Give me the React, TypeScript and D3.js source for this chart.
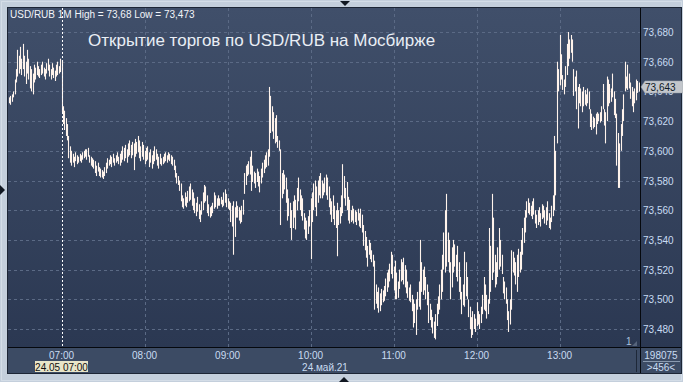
import React from 'react';
import * as d3 from 'd3';

const W = 683;
const H = 382;

// 1-minute bars, first bar at 06:22
const startTime = '06:22';

const highs = [
  73.636,73.637,73.638,73.640,73.648,73.655,73.668,73.664,73.670,73.662,
  73.672,73.664,73.660,73.668,73.662,73.657,73.655,73.652,73.658,73.656,
  73.660,73.657,73.655,73.658,73.660,73.656,73.655,73.659,73.662,73.658,
  73.655,73.659,73.656,73.654,73.658,73.660,73.657,73.662,73.661,73.630,
  73.627,73.622,73.618,73.610,73.603,73.600,73.598,73.596,73.599,73.597,
  73.596,73.598,73.597,73.599,73.600,73.601,73.601,73.602,73.597,73.596,
  73.595,73.594,73.593,73.590,73.592,73.589,73.588,73.587,73.586,73.589,
  73.592,73.595,73.594,73.597,73.596,73.598,73.595,73.597,73.599,73.596,
  73.598,73.600,73.603,73.602,73.604,73.601,73.605,73.607,73.604,73.606,
  73.605,73.608,73.606,73.610,73.607,73.603,73.606,73.604,73.600,73.602,
  73.603,73.599,73.601,73.597,73.600,73.603,73.601,73.598,73.596,73.598,
  73.595,73.596,73.598,73.599,73.597,73.599,73.598,73.597,73.596,73.594,
  73.590,73.585,73.583,73.580,73.578,73.570,73.568,73.572,73.569,73.573,
  73.576,73.578,73.574,73.572,73.568,73.565,73.569,73.564,73.560,73.566,
  73.572,73.577,73.576,73.570,73.564,73.562,73.563,73.565,73.572,73.570,
  73.568,73.570,73.568,73.569,73.567,73.572,73.574,73.571,73.568,73.566,
  73.565,73.563,73.566,73.562,73.566,73.563,73.562,73.560,73.563,73.567,
  73.585,73.590,73.591,73.593,73.596,73.600,73.590,73.586,73.585,73.588,
  73.586,73.583,73.588,73.592,73.594,73.597,73.599,73.601,73.643,73.637,
  73.630,73.626,73.622,73.624,73.610,73.607,73.601,73.585,73.587,73.584,
  73.582,73.574,73.568,73.565,73.560,73.566,73.570,73.567,73.575,73.582,
  73.574,73.570,73.568,73.558,73.555,73.553,73.556,73.560,73.568,73.572,
  73.578,73.580,73.576,73.580,73.583,73.585,73.580,73.578,73.582,73.584,
  73.582,73.576,73.568,73.566,73.570,73.563,73.560,73.565,73.560,73.562,
  73.570,73.591,73.583,73.575,73.579,73.569,73.567,73.560,73.563,73.561,
  73.560,73.559,73.561,73.558,73.561,73.557,73.550,73.546,73.542,73.536,
  73.540,73.538,73.533,73.530,73.526,73.510,73.505,73.508,73.504,73.507,
  73.506,73.509,73.514,73.518,73.520,73.524,73.532,73.530,73.522,73.526,
  73.518,73.512,73.520,73.527,73.525,73.528,73.523,73.520,73.512,73.508,
  73.510,73.503,73.500,73.497,73.500,73.505,73.512,73.540,73.525,73.520,
  73.522,73.515,73.510,73.505,73.497,73.493,73.488,73.485,73.490,73.497,
  73.502,73.510,73.520,73.530,73.545,73.560,73.571,73.545,73.540,73.525,
  73.535,73.540,73.537,73.530,73.536,73.525,73.515,73.505,73.510,73.532,
  73.525,73.515,73.500,73.495,73.488,73.492,73.490,73.487,73.498,73.492,
  73.490,73.495,73.503,73.515,73.510,73.503,73.500,73.548,73.536,73.571,
  73.555,73.530,73.525,73.535,73.548,73.540,73.530,73.515,73.512,73.508,
  73.500,73.492,73.500,73.533,73.532,73.528,73.525,73.530,73.534,73.532,
  73.540,73.548,73.555,73.560,73.566,73.568,73.565,73.563,73.566,73.568,
  73.560,73.557,73.560,73.562,73.558,73.564,73.563,73.560,73.562,73.566,
  73.558,73.555,73.563,73.570,73.610,73.600,73.660,73.655,73.678,73.665,
  73.651,73.648,73.657,73.672,73.680,73.675,73.678,73.675,73.655,73.650,
  73.654,73.643,73.645,73.642,73.640,73.643,73.641,73.638,73.642,73.640,
  73.628,73.625,73.623,73.622,73.625,73.626,73.625,73.626,73.630,73.645,
  73.628,73.626,73.650,73.648,73.645,73.642,73.652,73.640,73.635,73.625,
  73.612,73.605,73.618,73.628,73.638,73.660,73.650,73.658,73.652,73.646,
  73.643,73.640,73.642,73.648,73.647,73.646,
];

const lows = [
  73.632,73.631,73.633,73.636,73.638,73.646,73.650,73.652,73.655,73.651,
  73.655,73.650,73.645,73.652,73.648,73.642,73.640,73.638,73.646,73.648,
  73.651,73.650,73.649,73.651,73.652,73.650,73.648,73.652,73.654,73.650,
  73.648,73.651,73.649,73.647,73.650,73.651,73.652,73.653,73.626,73.618,
  73.614,73.610,73.607,73.595,73.592,73.590,73.592,73.589,73.593,73.591,
  73.592,73.593,73.592,73.594,73.595,73.596,73.594,73.596,73.592,73.590,
  73.589,73.588,73.585,73.583,73.586,73.583,73.582,73.582,73.581,73.583,
  73.585,73.588,73.590,73.591,73.589,73.592,73.590,73.592,73.593,73.591,
  73.590,73.592,73.594,73.593,73.595,73.592,73.596,73.597,73.595,73.597,
  73.587,73.596,73.598,73.599,73.595,73.593,73.596,73.594,73.591,73.593,
  73.594,73.589,73.592,73.588,73.591,73.593,73.594,73.590,73.588,73.591,
  73.590,73.591,73.592,73.593,73.592,73.594,73.593,73.591,73.590,73.587,
  73.582,73.578,73.577,73.573,73.566,73.562,73.561,73.563,73.562,73.565,
  73.566,73.567,73.563,73.560,73.558,73.556,73.559,73.554,73.552,73.557,
  73.560,73.565,73.566,73.558,73.556,73.555,73.556,73.558,73.561,73.562,
  73.561,73.563,73.563,73.564,73.562,73.563,73.565,73.562,73.561,73.560,
  73.552,73.549,73.530,73.542,73.555,73.555,73.553,73.551,73.552,73.557,
  73.571,73.577,73.583,73.584,73.584,73.573,73.579,73.578,73.575,73.579,
  73.576,73.572,73.578,73.582,73.585,73.588,73.589,73.590,73.596,73.612,
  73.613,73.608,73.605,73.606,73.602,73.600,73.550,73.568,73.571,73.574,
  73.565,73.553,73.556,73.548,73.540,73.548,73.555,73.547,73.560,73.566,
  73.560,73.556,73.553,73.547,73.541,73.540,73.544,73.549,73.527,73.552,
  73.560,73.562,73.556,73.565,73.570,73.568,73.568,73.570,73.572,73.570,
  73.567,73.562,73.557,73.552,73.554,73.550,73.548,73.529,73.550,73.551,
  73.556,73.558,73.568,73.563,73.560,73.553,73.551,73.552,73.553,73.551,
  73.552,73.550,73.553,73.549,73.548,73.545,73.536,73.533,73.528,73.522,
  73.530,73.527,73.525,73.522,73.493,73.497,73.494,73.491,73.492,73.496,
  73.498,73.499,73.502,73.505,73.508,73.512,73.517,73.514,73.506,73.500,
  73.500,73.501,73.507,73.512,73.513,73.510,73.508,73.504,73.501,73.499,
  73.498,73.492,73.481,73.484,73.476,73.493,73.495,73.493,73.505,73.503,
  73.506,73.500,73.496,73.484,73.486,73.481,73.477,73.474,73.473,73.482,
  73.490,73.493,73.500,73.505,73.520,73.518,73.522,73.525,73.518,73.500,
  73.508,73.518,73.522,73.515,73.512,73.505,73.500,73.490,73.496,73.495,
  73.502,73.500,73.488,73.480,73.474,73.476,73.480,73.478,73.482,73.483,
  73.480,73.484,73.490,73.493,73.492,73.487,73.490,73.497,73.505,73.513,
  73.518,73.508,73.510,73.515,73.520,73.522,73.517,73.504,73.500,73.497,
  73.486,73.478,73.483,73.493,73.518,73.516,73.510,73.505,73.515,73.518,
  73.520,73.530,73.538,73.545,73.555,73.558,73.557,73.556,73.554,73.557,
  73.551,73.548,73.550,73.552,73.549,73.554,73.555,73.551,73.550,73.553,
  73.548,73.547,73.552,73.556,73.560,73.570,73.605,73.640,73.644,73.648,
  73.641,73.638,73.643,73.651,73.657,73.662,73.666,73.660,73.637,73.640,
  73.628,73.615,73.632,73.630,73.626,73.630,73.631,73.630,73.632,73.628,
  73.616,73.614,73.615,73.616,73.611,73.618,73.620,73.619,73.620,73.628,
  73.617,73.605,73.620,73.630,73.632,73.633,73.636,73.624,73.622,73.590,
  73.575,73.575,73.600,73.610,73.620,73.640,73.642,73.641,73.642,73.635,
  73.630,73.626,73.632,73.634,73.639,73.640,
];

const priceTicks = [73.48, 73.5, 73.52, 73.54, 73.56, 73.58, 73.6, 73.62, 73.64, 73.66, 73.68];
const timeTicks = ['07:00', '08:00', '09:00', '10:00', '11:00', '12:00', '13:00'];
const cursorTime = '07:00';
const lastPrice = 73.643;
const headerText = 'USD/RUB 1M High = 73,68 Low = 73,473';
const titleText = 'Открытие торгов по USD/RUB на Мосбирже';
const cursorLabel = '24.05 07:00';
const dateLabel = '24.май.21';
const volumeLabel = '198075';
const countLabel = '>456<';
const paneLabel = '1';

const toMin = (s: string) => {
  const [h, m] = s.split(':').map(Number);
  return h * 60 + m;
};
const fmt = (v: number) => d3.format('.3f')(v).replace('.', ',');

const FONT = '"Liberation Sans", Arial, sans-serif';

export default function App() {
  const t0 = toMin(startTime);
  const n = highs.length;
  const plotL = 8, plotR = 640, plotT = 8, plotB = 347, panelR = 681, panelB = 373;
  const x = d3.scaleLinear().domain([t0, t0 + n - 1]).range([9, 638.5]);
  const y = d3.scaleLinear().domain([73.48, 73.68]).range([329, 32]);
  const bars = d3.range(n).map((i) => ({ t: t0 + i, hi: highs[i], lo: lows[i] }));
  const cx = Math.round(x(toMin(cursorTime))) + 0.5;
  const ly = y(lastPrice);

  return (
    <div style={{ position: 'fixed', left: 0, top: 0 }}>
      <svg width={W} height={H} style={{ display: 'block', fontFamily: FONT }}>
        <defs>
          <linearGradient id="bg" x1="0" y1="0" x2="0" y2="1">
            <stop offset="0" stopColor="#404f6a" />
            <stop offset="1" stopColor="#2b3852" />
          </linearGradient>
          <clipPath id="plotClip">
            <rect x={plotL} y={plotT} width={plotR - plotL} height={plotB - plotT} />
          </clipPath>
        </defs>
        <rect x={0} y={0} width={W} height={H} fill="#c4cfdc" />
        <rect x={1.5} y={1.5} width={W - 3} height={H - 3} fill="none" stroke="#d4dde7" strokeWidth={1} />
        {/* panel */}
        <rect x={plotL} y={plotT} width={panelR - plotL} height={plotB - plotT} fill="url(#bg)" />
        <rect x={plotL} y={plotB} width={panelR - plotL} height={panelB - plotB} fill="#3c4b64" />
        <rect x={plotL - 0.5} y={plotT - 0.5} width={panelR - plotL + 1} height={panelB - plotT + 1} fill="none" stroke="#1c2535" />

        {/* grid */}
        {priceTicks.map((p) => (
          <line key={'h' + p} x1={plotL} x2={plotR} y1={Math.round(y(p)) + 0.5} y2={Math.round(y(p)) + 0.5}
            stroke="#5b6a85" strokeDasharray="3,3" />
        ))}
        {timeTicks.filter((t) => t !== cursorTime).map((t) => {
          const xx = Math.round(x(toMin(t))) + 0.5;
          return <line key={'v' + t} x1={xx} x2={xx} y1={plotT} y2={plotB} stroke="#5b6a85" strokeDasharray="3,3" />;
        })}

        {/* header and title */}
        <text x={10} y={18} fontSize={10} fill="#f2f5f9">{headerText}</text>
        <text x={88} y={46} fontSize={17} fill="#e9eef5">{titleText}</text>

        {/* bars */}
        <g clipPath="url(#plotClip)" stroke="#fff3ec" strokeWidth={1.1}>
          {bars.map((b) => {
            const xx = Math.round(x(b.t)) + 0.5;
            const y1 = y(b.hi);
            const y2 = Math.max(y(b.lo), y1 + 1);
            return <line key={b.t} x1={xx} x2={xx} y1={y1} y2={y2} />;
          })}
        </g>

        {/* cursor */}
        <line x1={cx} x2={cx} y1={plotT} y2={plotB} stroke="#ffffff" strokeDasharray="2,2" />

        {/* separators */}
        <line x1={plotR + 0.5} x2={plotR + 0.5} y1={plotT} y2={panelB} stroke="#05080d" />
        <line x1={plotL} x2={panelR} y1={plotB + 0.5} y2={plotB + 0.5} stroke="#05080d" />
        <line x1={636.5} x2={636.5} y1={350} y2={372} stroke="#1e2838" />
        <line x1={643} x2={680} y1={361.5} y2={361.5} stroke="#8a9ab0" />

        {/* price axis */}
        {priceTicks.map((p) => (
          <text key={'pl' + p} x={643} y={y(p) + 4} fontSize={10} fill="#c9dcf2">{fmt(p)}</text>
        ))}

        {/* last price tag */}
        <path d={`M641,${ly} L645,${ly - 6} L683,${ly - 6} L683,${ly + 6} L645,${ly + 6} Z`} fill="#c3c7cc" stroke="#9aa2ab" strokeWidth={0.5} />
        <text x={645} y={ly + 4} fontSize={10} fill="#0e1a26">{fmt(lastPrice)}</text>

        {/* time axis */}
        {timeTicks.map((t) => (
          <text key={'tl' + t} x={x(toMin(t))} y={359} fontSize={10} fill="#c9dcf2" textAnchor="middle">{t}</text>
        ))}
        <rect x={35} y={361} width={53} height={11} fill="#e8e5c9" />
        <text x={61.5} y={370.5} fontSize={10} fill="#101010" textAnchor="middle">{cursorLabel}</text>
        <text x={325} y={370.5} fontSize={10} fill="#c9dcf2" textAnchor="middle">{dateLabel}</text>

        <text x={661} y={358.5} fontSize={10} fill="#c9dcf2" textAnchor="middle">{volumeLabel}</text>
        <text x={661} y={371} fontSize={10} fill="#c9dcf2" textAnchor="middle">{countLabel}</text>

        <text x={626} y={345} fontSize={10} fill="#a9c2de">{paneLabel}</text>
        <path d="M632,346 L637,346 L637,341 Z" fill="#56647c" />

        {/* triangles */}
        <path d="M340,1 L350,1 L345,6 Z" fill="#111822" />
        <path d="M339,382 L349,382 L344,377 Z" fill="#111822" />
        <path d="M0,185 L5,190 L0,195 Z" fill="#111822" />
      </svg>
    </div>
  );
}
